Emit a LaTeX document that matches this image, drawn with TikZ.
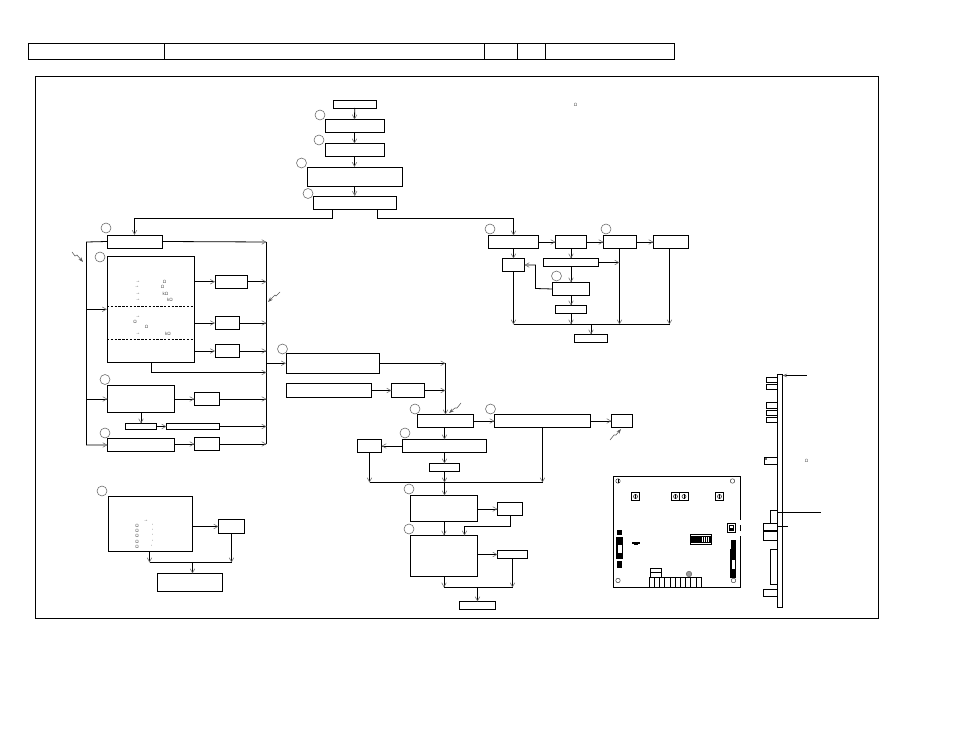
\documentclass[tikz,border=0pt]{standalone}
\usepackage{fontspec}
\setmainfont{Liberation Sans}
\usetikzlibrary{arrows.meta}
\tikzset{
  bx/.style={draw=black,line width=.8pt,fill=white,inner sep=0pt,outer sep=0pt},
  wire/.style={draw=black,line width=.8pt},
  arr/.style={wire,-{Straight Barb[length=4.2pt,width=4.6pt,line width=.6pt,black!55]}},
  mk/.style={draw=black!60,line width=.55pt,fill=none,circle,minimum size=10pt,inner sep=0pt},
  tiny/.style={font=\fontsize{4.6}{5}\selectfont,text=black!70,inner sep=0pt},
  lead/.style={draw=black!65,line width=.55pt,-{Stealth[length=5pt,width=3.5pt]}},
  hole/.style={draw=black!80,line width=.45pt,circle,minimum size=4.5pt,inner sep=0pt,fill=white}
}
\newcommand{\bxn}[5]{\node[bx,minimum width={(#4-#2)*1pt},minimum height={(#5-#3)*1pt}] (#1) at ({(#2+#4)/2},{(#3+#5)/2}) {};}
\newcommand{\scr}[2]{\node[bx,line width=1pt,minimum width=8.5pt,minimum height=8.5pt] (#1) at (#2) {}; \node[hole,line width=.6pt,minimum size=4pt] (#1h) at (#2) {}; \draw[black,line width=.7pt] (#1h.north) -- (#1h.south);}
\begin{document}
\begin{tikzpicture}[x=1pt,y=-1pt]
\useasboundingbox[fill=white] (0,0) rectangle (954,738);
% header
\bxn{h1}{28}{43}{164}{59.5}\bxn{h2}{164}{43}{484}{59.5}\bxn{h3}{484}{43}{517}{59.5}\bxn{h4}{517}{43}{545}{59.5}\bxn{h5}{545}{43}{674}{59.5}
% frame
\bxn{frame}{35.5}{76.5}{878}{618}
% top chain
\bxn{b1}{333}{100}{376.5}{108}\bxn{b2}{325}{119.5}{384}{132.5}\bxn{b3}{325}{143.5}{384}{156.5}\bxn{b4}{307}{167}{402}{186.5}\bxn{b5}{313}{196}{396.5}{209.5}
% left group
\bxn{a1}{107}{235}{162}{248}\bxn{a2}{107}{256.5}{194}{362}\bxn{a3}{215}{275}{247.5}{288.5}\bxn{a4}{215}{316.5}{239.5}{329.5}\bxn{a5}{215}{344.5}{239.5}{357.5}
\bxn{a6}{107.5}{385.5}{174.5}{412.5}\bxn{a7}{194.5}{392.5}{219}{405.5}\bxn{a8}{125.5}{423.5}{156.5}{429.5}\bxn{a9}{166.5}{423.5}{219.5}{429.5}\bxn{a10}{107.5}{438.5}{174.5}{451.5}\bxn{a11}{194.5}{437.5}{219.5}{450.5}
% middle
\bxn{c1}{286}{353}{379.5}{373.5}\bxn{c2}{286}{383.5}{371.5}{397.5}\bxn{c3}{391.5}{383.5}{424.5}{397.5}
\bxn{d1}{417.5}{414.5}{473.5}{427.5}\bxn{d2}{494.5}{414.5}{590.5}{427.5}\bxn{d3}{611.5}{414.5}{632.5}{427.5}\bxn{d4}{402.5}{439.5}{486.5}{452.5}\bxn{d5}{357.5}{439.5}{381.5}{452.5}\bxn{d6}{429.5}{463.5}{459.5}{471.5}
\bxn{d7}{410.5}{495.5}{477.5}{521.5}\bxn{d8}{497.5}{502.5}{522.5}{515.5}\bxn{d9}{410.5}{535.5}{477.5}{576.5}\bxn{d10}{497.5}{550.5}{527.5}{558.5}\bxn{d11}{459.5}{601.5}{495.5}{609.5}
% right
\bxn{e1}{488.5}{235.5}{538.5}{248.5}\bxn{e2}{555.5}{235.5}{586.5}{248.5}\bxn{e3}{603.5}{235.5}{636.5}{248.5}\bxn{e4}{653.5}{235.5}{688.5}{248.5}\bxn{e5}{502.5}{258.5}{524.5}{271.5}\bxn{e6}{543.5}{258.5}{598.5}{266.5}\bxn{e7}{552.5}{282.5}{589.5}{295.5}\bxn{e8}{555.5}{305.5}{586.5}{313.5}\bxn{e9}{574.5}{334.5}{607.5}{342.5}
% bottom left
\bxn{f1}{108.5}{496.5}{192.5}{551.5}\bxn{f2}{218.5}{519.5}{244.5}{533.5}\bxn{f3}{157.5}{573.5}{222.5}{591.5}
% dashed partitions in a2
\coordinate (ds1) at (0,306.5);\coordinate (ds2) at (0,339.5);
\draw[wire,dashed,dash pattern=on 2.4pt off 1.4pt] (a2.west |- ds1) -- (a2.east |- ds1);
\draw[wire,dashed,dash pattern=on 2.4pt off 1.4pt] (a2.west |- ds2) -- (a2.east |- ds2);
% junction coordinates
\coordinate (jL) at (332.5,218.5);\coordinate (jR) at (377.5,218.5);
\coordinate (bl) at (86.5,242);\coordinate (br) at (266.5,242);
\coordinate (a2j) at (151.5,372.5);\coordinate (bj) at (444.5,482.5);\coordinate (dk) at (464.5,526.5);\coordinate (gj) at (444,587.5);
\coordinate (rb) at (513.5,324.5);\coordinate (fj) at (192.5,562.5);\coordinate (fL) at (149.5,562.5);\coordinate (ej) at (535.5,288.5);
\coordinate (r3) at (619.5,300);\coordinate (r4) at (669.5,300);
% top connectors
\draw[arr] (b1.south) -- (b2.north);\draw[arr] (b2.south) -- (b3.north);\draw[arr] (b3.south) -- (b4.north);\draw[arr] (b4.south) -- (b5.north);
\draw[arr] (b5.south -| jL) -- (jL) -- (a1.north |- jL) -- (a1.north);
\draw[arr] (b5.south -| jR) -- (jR) -- (e1.north |- jR) -- (e1.north);
% left buses
\draw[arr] (a1.west) -- (bl) -- (bl |- a10.west) -- (a10.west);
\draw[arr] (bl |- a2.west) -- (a2.west);
\draw[arr] (bl |- a6.west) -- (a6.west);
\draw[arr] (a1.east) -- (br);
\draw[wire] (br) -- (br |- a11.east);
\draw[arr] (a2.east |- a3.west) -- (a3.west);\draw[arr] (a3.east) -- (br |- a3.east);
\draw[arr] (a2.east |- a4.west) -- (a4.west);\draw[arr] (a4.east) -- (br |- a4.east);
\draw[arr] (a2.east |- a5.west) -- (a5.west);\draw[arr] (a5.east) -- (br |- a5.east);
\draw[arr] (a2.south -| a2j) -- (a2j) -- (br |- a2j);
\draw[arr] (a6.east |- a7.west) -- (a7.west);\draw[arr] (a7.east) -- (br |- a7.east);
\draw[arr] (a6.south -| a8.north) -- (a8.north);\draw[arr] (a8.east) -- (a9.west);\draw[arr] (a9.east) -- (br |- a9.east);
\draw[arr] (a10.east |- a11.west) -- (a11.west);\draw[arr] (a11.east) -- (br |- a11.east);
\draw[arr] (br |- c1.west) -- (c1.west);
% middle
\draw[arr] (c1.east) -- (c1.east -| d1.north);\draw[arr] (c1.east -| d1.north) -- (d1.north);
\draw[arr] (c2.east) -- (c3.west);\draw[arr] (c3.east) -- (c3.east -| d1.north);
\draw[arr] (d1.east) -- (d2.west);\draw[arr] (d2.east) -- (d3.west);
\draw[arr] (d1.south -| d4.north) -- (d4.north);\draw[arr] (d4.west) -- (d5.east);\draw[arr] (d4.south -| d6.north) -- (d6.north);
\draw[arr] (d6.south -| bj) -- (bj);
\draw[arr] (d5.south) -- (d5.south |- bj);
\draw[arr] (d2.south) -- (d2.south |- bj);
\draw[wire] (d5.south |- bj) -- (d2.south |- bj);
\draw[arr] (bj) -- (bj |- d7.north);
\draw[arr] (d7.east |- d8.west) -- (d8.west);
\draw[arr] (d7.south) -- (d9.north);
\draw[arr] (d8.south) -- (d8.south |- dk) -- (dk) -- (dk |- d9.north);
\draw[arr] (d9.east |- d10.west) -- (d10.west);
\draw[arr] (d9.south) -- (d9.south |- gj);
\draw[arr] (d10.south) -- (d10.south |- gj);
\draw[wire] (d9.south |- gj) -- (d10.south |- gj);
\draw[arr] (d11.north |- gj) -- (d11.north);
% right
\draw[arr] (e1.east) -- (e2.west);\draw[arr] (e2.east) -- (e3.west);\draw[arr] (e3.east) -- (e4.west);
\draw[arr] (e1.south) -- (e5.north);\draw[arr] (e5.south) -- (e5.south |- rb);
\draw[arr] (e2.south) -- (e6.north);\draw[arr] (e6.south -| e7.north) -- (e7.north);\draw[arr] (e7.south -| e8.north) -- (e8.north);
\draw[arr] (e8.south) -- (e8.south |- rb);
\draw[arr] (e3.south -| r3) -- (r3 |- rb);\draw[arr] (e4.south -| r4) -- (r4 |- rb);
\draw[wire] (e5.south |- rb) -- (r4 |- rb);
\draw[arr] (e9.north |- rb) -- (e9.north);
\draw[arr] (e6.east) -- (r3 |- e6.east);
\draw[arr] (e7.west) -- (ej) -- (ej |- e5.east) -- (e5.east);
% bottom left
\draw[arr] (f1.east |- f2.west) -- (f2.west);
\draw[arr] (f1.south -| fL) -- (fL);
\draw[arr] (f2.south) -- (f2.south |- fj);
\draw[wire] (fL) -- (f2.south |- fj);
\draw[arr] (fj) -- (fj |- f3.north);
% numbered circles
\foreach \n/\p in {m1/{320,115},m2/{319,140},m3/{301.5,163},m4/{308,193.5},m5/{106,228},m6/{100,257},m7/{105,379.5},m8/{105,433},m9/{102,491},m10/{282.5,349},m11/{415,409},m12/{490.5,409},m13/{405,433},m14/{409,489},m15/{409,529},m16/{490,229},m17/{606,229},m18/{556.5,276}}{\node[mk] (\n) at (\p) {};}
% leaders
\coordinate (l1a) at (72,252);\coordinate (l1b) at (83,262);
\coordinate (l2a) at (280,292);\coordinate (l2b) at (268,302);
\coordinate (l3a) at (461,403);\coordinate (l3b) at (449,413);
\coordinate (l4a) at (610,440);\coordinate (l4b) at (621,429);
\draw[lead] (l1a) -- ++(3,4) -- ++(2,-1) -- (l1b);
\draw[lead] (l2a) -- ++(-4,4) -- ++(-1,-1) -- (l2b);
\draw[lead] (l3a) -- ++(-4,5) -- ++(-2,0) -- (l3b);
\draw[lead] (l4a) -- ++(4,-5) -- ++(2,0) -- (l4b);
% small text
\foreach \n/\p/\t in {t1/{575.5,105}/Ω,t2/{806.5,461}/Ω,
 t3/{138,282}/→,t4/{137,287}/→,t5/{138,293.5}/→,t6/{138,299.5}/→,t7/{164.5,281.5}/Ω,t8/{162.5,287}/Ω,t9/{165.5,293.5}/kΩ,t10/{170,299.5}/kΩ,
 t11/{138,317}/→,t12/{135,321.5}/Ω,t13/{146.5,326.5}/Ω,t14/{138,334}/→,t15/{168,333.5}/kΩ,
 t16/{146,520.5}/→,t17/{137,525.5}/Ω,t18/{137,530.5}/Ω,t19/{137,536}/Ω,t20/{137,541.5}/Ω,t21/{137,546.5}/Ω,t22/{153,525.5}/',t23/{153,530.5}/',t24/{153,536}/',t25/{153,541.5}/',t26/{152,546.5}/'}
 {\node[tiny] (\n) at (\p) {\t};}
% board
\bxn{pcb}{613.5}{476.5}{740.5}{587.5}
\draw[white,line width=1.4pt] (740.5,520) -- (740.5,525);
\draw[white,line width=1.4pt] (740.5,531) -- (740.5,536);
\scr{s1}{635.5,496.5}\scr{s2}{675.5,496.5}\scr{s3}{684,496.5}\scr{s4}{719.5,496.5}
\node[hole] (ph1) at (618,481) {};\draw[black,line width=.5pt] (ph1.north) -- (ph1.south);
\node[hole] (ph2) at (732.5,481) {};\node[hole] (ph3) at (618,580.5) {};\node[hole] (ph4) at (733.5,580.5) {};
\bxn{sw}{727}{523}{735}{532}
\fill[black] (728.5,524.5) rectangle (733.5,530.5);\fill[white] (729.5,525.5) rectangle (732.5,527.5);
% DIP switch
\draw[black,line width=.4pt,fill=white] (690,534) rectangle (711.5,544);
\fill[black] (691,535.5) rectangle (710.5,542.5);
\foreach \x in {702,704,706,708}{\draw[white,line width=.6pt] (\x,537) -- (\x,542);}
\fill[black] (632,541.5) rectangle (640,544);\fill[black] (634,544) rectangle (638,545);
% left connector
\fill[black] (617,529.5) rectangle (621.5,535);
\fill[black] (616,537) rectangle (623,559);
\draw[black,fill=white,line width=.3pt] (617.5,544) rectangle (622,553);
\fill[black] (617,561) rectangle (621.5,568);
% right connector
\fill[black] (731,540) rectangle (735.5,549);
\fill[black] (730,549) rectangle (736,578);
\draw[black,fill=white,line width=.3pt] (731,559) rectangle (735.5,569);
% terminals
\bxn{tb1}{650}{568}{661.5}{572.5}\bxn{tb2}{650}{572.5}{661.5}{577.5}
\foreach \i in {0,...,9}{\node[bx,line width=.6pt,minimum width=5.2pt,minimum height=9.5pt] (cell\i) at ({651.6+\i*5.2},582.3) {};}
\node[draw=black!60,fill=black!40,circle,minimum size=5.5pt,inner sep=0pt,line width=.5pt] (gear) at (689,574) {};
% side view
\bxn{pl}{777.5}{374.5}{782.5}{607}
\bxn{p1}{766}{377.5}{777.5}{382.5}\bxn{p2}{766}{384}{777.5}{389.5}\bxn{p3}{766}{402.5}{777.5}{408}\bxn{p4}{766}{410}{777.5}{415.5}\bxn{p5}{766}{417.5}{777.5}{422.5}\bxn{p6}{764.5}{457.5}{777.5}{464.5}
\bxn{p7}{770.5}{510.5}{777.5}{523.5}\bxn{p8}{763.5}{523.5}{777.5}{530}\bxn{p9}{763.5}{531.5}{777.5}{540.5}\bxn{p10}{770.5}{549.5}{777.5}{584.5}\bxn{p11}{763.5}{589.5}{777.5}{596}
\coordinate (q1) at (807,375.5);\coordinate (q2) at (821,512);\coordinate (q3) at (788,526);
\draw[wire,{Stealth[length=4.5pt,width=3.5pt,black!60]}-] (pl.north east |- q1) -- (q1);
\draw[wire] (pl.north west |- q2) -- (q2);
\draw[wire] (pl.north west |- q3) -- (q3);
\node[draw=none,fill=black!60,minimum size=2pt,inner sep=0pt] (p6m) at (766,459) {};
\end{tikzpicture}
\end{document}
